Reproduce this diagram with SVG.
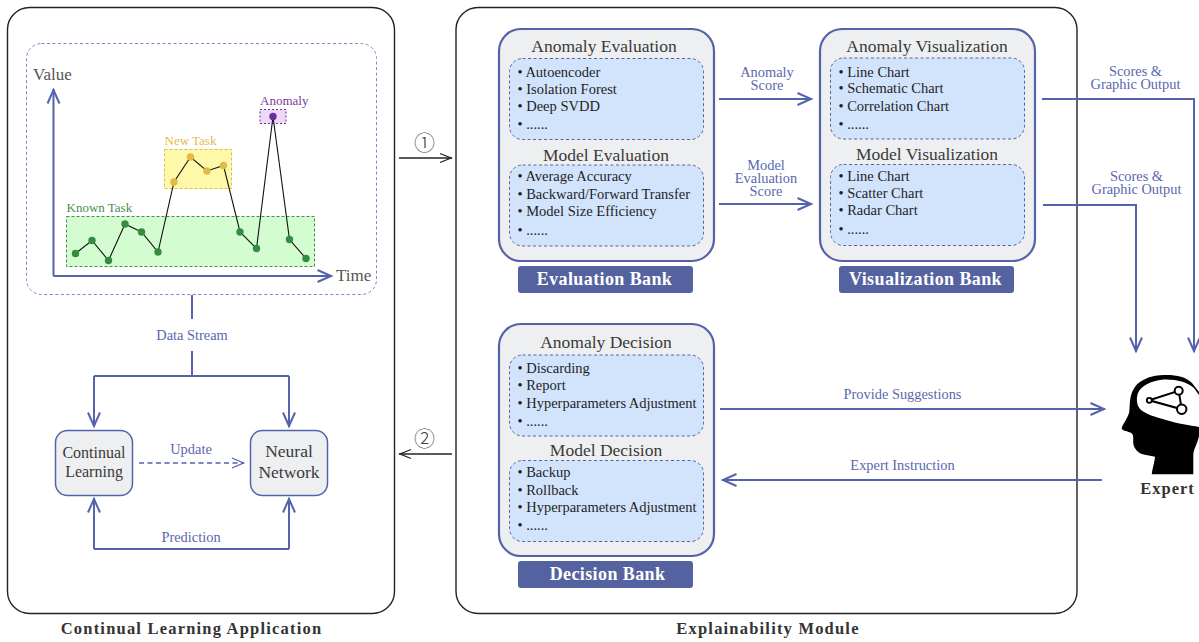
<svg xmlns="http://www.w3.org/2000/svg" width="1199" height="642" viewBox="0 0 1199 642">
<style>
text{font-family:"Liberation Serif","Times New Roman",serif}
.t{fill:#3a3a3a;text-anchor:middle}
.l{fill:#5a68ad;text-anchor:middle;font-size:14.400px}
.i{fill:#1f1f1f;font-size:14.500px}
.b{fill:#fff;font-weight:bold;font-size:18px;text-anchor:middle;letter-spacing:.4px}
.cap{fill:#333;font-weight:bold;font-size:16.500px;text-anchor:middle;letter-spacing:1.2px}
.panel{fill:none;stroke:#222;stroke-width:1.4}
.bank{fill:#eeeff0;stroke:#5463a8;stroke-width:2.2}
.sub{fill:#d2e4fc;stroke:#5463a8;stroke-width:1;stroke-dasharray:3 2.5}
.hdr{fill:#5463a0}
.c{fill:none;stroke:#5463ad;stroke-width:2}
.k{fill:none;stroke:#222;stroke-width:1.3}
.ser{fill:none;stroke:#111;stroke-width:1.1}
.g{fill:#358c3f}.y{fill:#e3ba45}
.h3{font-size:17.500px}
.num{font-family:"Noto Sans CJK SC","Liberation Serif",serif;font-size:21px;fill:#444;text-anchor:middle;font-weight:300}
</style>
<defs>
<marker id="a" markerUnits="userSpaceOnUse" markerWidth="20" markerHeight="20" refX="16" refY="10" orient="auto"><path d="M1.500 4 L15 10 L1.500 16" fill="none" stroke="#5463ad" stroke-width="2"/></marker>
<marker id="ad" markerUnits="userSpaceOnUse" markerWidth="16" markerHeight="16" refX="13" refY="8" orient="auto"><path d="M1 3 L12.500 8 L1 13" fill="none" stroke="#5463ad" stroke-width="1.300"/></marker>
<marker id="akr" markerUnits="userSpaceOnUse" markerWidth="16" markerHeight="16" refX="14" refY="8" orient="auto"><path d="M2 3.500 L13 8 L2 12.500" fill="none" stroke="#222" stroke-width="1.300"/></marker>
</defs>

<g id="continual-learning-application">
<rect class="panel" x="7.500" y="7.500" width="387" height="606" rx="22"/>
<text class="cap" x="191.500" y="634">Continual Learning Application</text>
</g>
<g id="explainability-module">
<rect class="panel" x="456" y="7.500" width="621" height="606" rx="22"/>
<text class="cap" x="768" y="634">Explainability Module</text>
</g>

<g id="chart">
<rect x="26.500" y="43.500" width="350" height="251" rx="15" fill="#fff" stroke="#7f88c0" stroke-width="1" stroke-dasharray="3 2.500"/>
<text x="33" y="79.500" font-size="17" fill="#555">Value</text>
<text x="336" y="281" font-size="17" fill="#555">Time</text>
<rect x="66.500" y="216.500" width="248" height="50" fill="#d3fdd0" stroke="#3f9048" stroke-width="1" stroke-dasharray="3 2"/>
<rect x="164.500" y="149.500" width="67" height="39" fill="#fdf9a8" stroke="#e3ba45" stroke-width="1" stroke-dasharray="3 2"/>
<rect x="260" y="109.500" width="26" height="14" fill="#eed8f8" stroke="#6b2f92" stroke-width="1" stroke-dasharray="2 2"/>
<text x="66.500" y="212" font-size="13" fill="#4a8d50">Known Task</text>
<text x="164.500" y="145" font-size="13" fill="#e3ba45">New Task</text>
<text x="260" y="105" font-size="13" fill="#7a3a9c">Anomaly</text>
<path class="c" d="M53.500 276 H332" marker-end="url(#a)"/>
<path class="c" d="M53.500 276 V89" marker-end="url(#a)"/>
<polyline class="ser" points="75.500,253.500 92,240.500 108.500,260.500 125,224 141.500,232 158,252 174,182 190.500,157 207,171 223.500,165.500 240,232 256.500,248.500 273,116.500 289.500,239.500 306,258.500"/>
<g class="g"><circle cx="75.500" cy="253.500" r="3.700"/><circle cx="92" cy="240.500" r="3.700"/><circle cx="108.500" cy="260.500" r="3.700"/><circle cx="125" cy="224" r="3.700"/><circle cx="141.500" cy="232" r="3.700"/><circle cx="158" cy="252" r="3.700"/><circle cx="240" cy="232" r="3.700"/><circle cx="256.500" cy="248.500" r="3.700"/><circle cx="289.500" cy="239.500" r="3.700"/><circle cx="306" cy="258.500" r="3.700"/></g>
<g class="y"><circle cx="174" cy="182" r="3.700"/><circle cx="190.500" cy="157" r="3.700"/><circle cx="207" cy="171" r="3.700"/><circle cx="223.500" cy="165.500" r="3.700"/></g>
<circle cx="273" cy="116.500" r="3.700" fill="#66309a"/>
</g>

<g id="continual-learning">
<rect x="55.500" y="430.500" width="77" height="65" rx="12" fill="#eeeff0" stroke="#5463ad" stroke-width="1.500"/>
<text class="t" font-size="16" x="94" y="458">Continual</text>
<text class="t" font-size="16" x="94" y="477">Learning</text>
</g>
<g id="neural-network">
<rect x="250.500" y="430.500" width="77" height="65" rx="12" fill="#eeeff0" stroke="#5463ad" stroke-width="1.500"/>
<text class="t" font-size="17.500" x="289" y="457">Neural</text>
<text class="t" font-size="17.500" x="289" y="478">Network</text>
</g>

<g id="evaluation-bank">
<rect class="bank" x="499" y="29" width="215" height="232" rx="22"/>
<text class="t h3" x="604" y="52">Anomaly Evaluation</text>
<rect class="sub" x="509.500" y="58.500" width="194" height="81" rx="13"/>
<text class="i" x="517.500" y="77">• Autoencoder</text><text class="i" x="517.500" y="94">• Isolation Forest</text><text class="i" x="517.500" y="111">• Deep SVDD</text><text class="i" x="517.500" y="129">• ......</text>
<text class="t h3" x="606" y="161">Model Evaluation</text>
<rect class="sub" x="509.500" y="165" width="194" height="81" rx="13"/>
<text class="i" x="517.500" y="181">• Average Accuracy</text><text class="i" x="517.500" y="199">• Backward/Forward Transfer</text><text class="i" x="517.500" y="216">• Model Size Efficiency</text><text class="i" x="517.500" y="235">• ......</text>
<rect class="hdr" x="518" y="266" width="175" height="27" rx="3"/>
<text class="b" x="604.500" y="285">Evaluation Bank</text>
</g>
<g id="visualization-bank">
<rect class="bank" x="820" y="29" width="215" height="232" rx="22"/>
<text class="t h3" x="927" y="52">Anomaly Visualization</text>
<rect class="sub" x="830.500" y="58" width="194" height="81" rx="13"/>
<text class="i" x="838.500" y="77">• Line Chart</text><text class="i" x="838.500" y="93">• Schematic Chart</text><text class="i" x="838.500" y="111">• Correlation Chart</text><text class="i" x="838.500" y="129">• ......</text>
<text class="t h3" x="927" y="160">Model Visualization</text>
<rect class="sub" x="830.500" y="164.500" width="194" height="81" rx="13"/>
<text class="i" x="838.500" y="181">• Line Chart</text><text class="i" x="838.500" y="198">• Scatter Chart</text><text class="i" x="838.500" y="215">• Radar Chart</text><text class="i" x="838.500" y="234">• ......</text>
<rect class="hdr" x="839" y="266" width="175" height="27" rx="3"/>
<text class="b" x="925.500" y="285">Visualization Bank</text>
</g>
<g id="decision-bank">
<rect class="bank" x="499" y="324" width="215" height="232" rx="22"/>
<text class="t h3" x="606" y="348">Anomaly Decision</text>
<rect class="sub" x="509.500" y="355" width="194" height="81" rx="13"/>
<text class="i" x="517.500" y="373">• Discarding</text><text class="i" x="517.500" y="390">• Report</text><text class="i" x="517.500" y="408">• Hyperparameters Adjustment</text><text class="i" x="517.500" y="426">• ......</text>
<text class="t h3" x="606" y="456">Model Decision</text>
<rect class="sub" x="509.500" y="460.500" width="194" height="81" rx="13"/>
<text class="i" x="517.500" y="477">• Backup</text><text class="i" x="517.500" y="495">• Rollback</text><text class="i" x="517.500" y="512">• Hyperparameters Adjustment</text><text class="i" x="517.500" y="530">• ......</text>
<rect class="hdr" x="518" y="561" width="175" height="27" rx="3"/>
<text class="b" x="607.500" y="580">Decision Bank</text>
</g>

<g id="expert">
<path fill="#000" d="M1151.700 474.300 C1153 466 1155 460 1155 456.700 C1148 455 1143 455 1140 453.300 C1135 450 1133.500 446 1133.300 443.300 C1133 438 1134 436 1131.700 433.300 C1128 431 1122 431 1121.700 428.300 C1122 425 1128 418 1129.300 411.700 C1130 405 1129.500 402 1130.700 396.700 C1133 388 1137 383 1143.300 380 C1150 376 1158 375 1166.700 375 C1177 375 1186 377 1192 383 L1199 392 V436 C1197 445 1193.500 449 1193.300 455 V474.300 Z"/>
<path fill="#fff" d="M1137 397 C1138 388 1147 382 1160 380 C1172 378.500 1186 381 1194 388 L1199 395 V427 C1190 425 1178 424 1166 420 C1155 417 1146 414 1141 410 C1138 407 1136.500 403 1137 397 Z"/>
<path fill="none" stroke="#000" stroke-width="2" d="M1149.300 400.300 L1178.700 390.700 L1181.700 409.300 Z"/>
<circle cx="1149.300" cy="400.300" r="2.500" fill="#fff" stroke="#000" stroke-width="1.800"/>
<circle cx="1178.700" cy="390.700" r="4" fill="#fff" stroke="#000" stroke-width="2"/>
<circle cx="1181.700" cy="409.300" r="4.700" fill="#fff" stroke="#000" stroke-width="2"/>
<text x="1167.500" y="494" font-size="16.500" font-weight="bold" fill="#333" text-anchor="middle" letter-spacing="1">Expert</text>
</g>

<g id="connectors">
<path class="c" d="M192 295 V319"/>
<path class="c" d="M192 351 V376"/>
<path class="c" d="M94 376 H289"/>
<path class="c" d="M94 376 V427" marker-end="url(#a)"/>
<path class="c" d="M289 376 V427" marker-end="url(#a)"/>
<path d="M139 463 H244" fill="none" stroke="#5463ad" stroke-width="1.300" stroke-dasharray="5 3.500" marker-end="url(#ad)"/>
<path class="c" d="M94 549 H289"/>
<path class="c" d="M94 549 V498" marker-end="url(#a)"/>
<path class="c" d="M289 549 V498" marker-end="url(#a)"/>
<path class="k" d="M399 158 H452" marker-end="url(#akr)"/>
<path class="k" d="M452 454 H399" marker-end="url(#akr)"/>
<path class="c" d="M719 99 H812" marker-end="url(#a)"/>
<path class="c" d="M719 204 H812" marker-end="url(#a)"/>
<path class="c" d="M1042 99 H1194 V352" marker-end="url(#a)"/>
<path class="c" d="M1043 205 H1136 V352" marker-end="url(#a)"/>
<path class="c" d="M720 409 H1105" marker-end="url(#a)"/>
<path class="c" d="M1102 480 H722" marker-end="url(#a)"/>
<text class="l" x="192" y="340">Data Stream</text>
<text class="l" x="191" y="454">Update</text>
<text class="l" x="191" y="542">Prediction</text>
<text class="l" x="767" y="77">Anomaly<tspan x="767" dy="13">Score</tspan></text>
<text class="l" x="766" y="170">Model<tspan x="766" dy="13">Evaluation</tspan><tspan x="766" dy="13">Score</tspan></text>
<text class="l" x="1135.500" y="76">Scores &amp;<tspan x="1135.500" dy="13">Graphic Output</tspan></text>
<text class="l" x="1136.500" y="181">Scores &amp;<tspan x="1136.500" dy="13">Graphic Output</tspan></text>
<text class="l" x="902.500" y="399">Provide Suggestions</text>
<text class="l" x="902.500" y="470">Expert Instruction</text>
<text class="num" x="424.500" y="150">①</text>
<text class="num" x="424.500" y="446">②</text>
</g>
</svg>
